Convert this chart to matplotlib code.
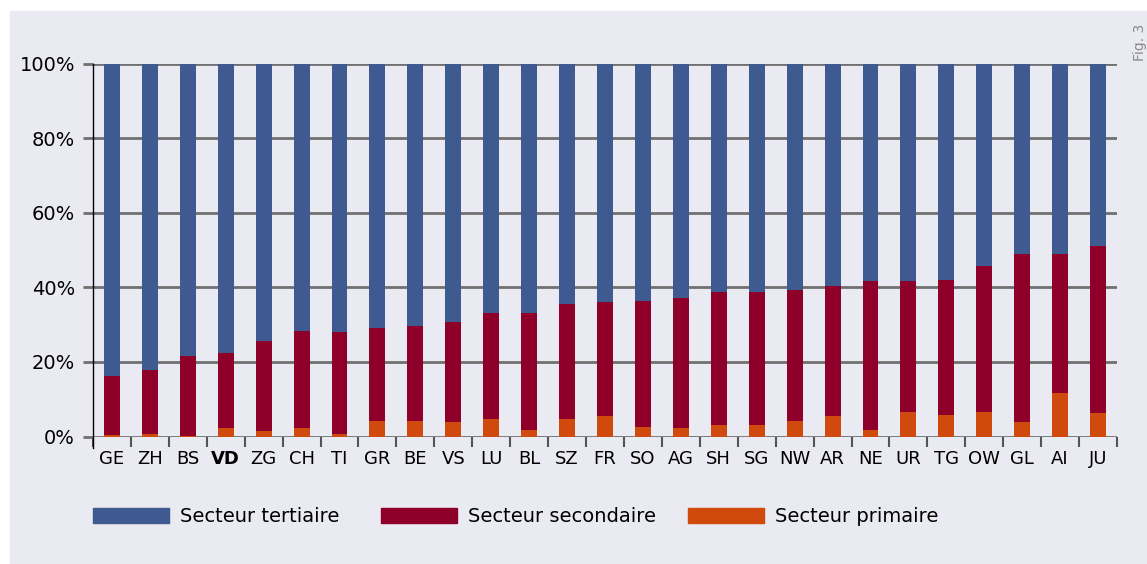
import matplotlib.pyplot as plt
from matplotlib.patches import Rectangle, Patch
import numpy as np

cantons = ['GE', 'ZH', 'BS', 'VD', 'ZG', 'CH', 'TI', 'GR', 'BE', 'VS', 'LU', 'BL', 'SZ',
           'FR', 'SO', 'AG', 'SH', 'SG', 'NW', 'AR', 'NE', 'UR', 'TG', 'OW', 'GL', 'AI', 'JU']
# shares in %
primaire = [0.3, 0.6, 0.1, 2.4, 1.4, 2.4, 0.8, 4.1, 4.1, 3.8, 4.7, 1.7, 4.7,
            5.5, 2.5, 2.3, 3.1, 3.1, 4.1, 5.5, 1.8, 6.5, 5.7, 6.5, 3.9, 11.7, 6.3]
# cumulative top of secondary sector (primary + secondary)
cumul_secondaire = [16.2, 17.7, 21.7, 22.5, 25.5, 28.2, 28.1, 29.0, 29.5, 30.6, 33.1, 33.1, 35.5,
                    36.0, 36.3, 37.1, 38.7, 38.7, 39.3, 40.3, 41.6, 41.6, 42.0, 45.7, 48.9, 48.9, 51.0]
secteurs = ['Secteur tertiaire', 'Secteur secondaire', 'Secteur primaire']

primaire = np.array(primaire)
secondaire = np.array(cumul_secondaire) - primaire
tertiaire = 100 - primaire - secondaire

c_ter = '#3e5a91'
c_sec = '#8e002a'
c_pri = '#d04a0e'
bg = '#eaeaf2'

plt.rcParams['font.family'] = ['DejaVu Sans']

W, H = 1147, 564
fig = plt.figure(figsize=(W / 100, H / 100), dpi=100)
fig.patches.append(Rectangle((10 / W, 0), 1 - 10 / W, 1 - 11 / H,
                             transform=fig.transFigure, color=bg, zorder=-10))

ax = fig.add_axes([93 / W, (H - 436.5) / H, 1024 / W, 373 / H])
ax.patch.set_alpha(0)

x = np.arange(len(cantons))
w = 0.42
ax.bar(x, primaire, w, color=c_pri, zorder=3)
ax.bar(x, secondaire, w, bottom=primaire, color=c_sec, zorder=3)
ax.bar(x, tertiaire, w, bottom=primaire + secondaire, color=c_ter, zorder=3)

ax.set_xlim(-0.5, len(cantons) - 0.5)
ax.set_ylim(0, 100)
ax.set_yticks(np.arange(0, 101, 20))
ax.set_yticklabels(['%d%%' % v for v in range(0, 101, 20)], fontsize=14)
ax.yaxis.grid(True, color='#707070', linewidth=2, zorder=1)
ax.tick_params(axis='y', length=7, width=2, color='#707070', pad=6)

ax.set_xticks(x)
ax.set_xticklabels(cantons, fontsize=13)
ax.get_xticklabels()[cantons.index('VD')].set_fontweight('bold')
ax.set_xticks(np.arange(-0.5, len(cantons), 1), minor=True)
ax.tick_params(axis='x', which='major', length=0, pad=10)
ax.tick_params(axis='x', which='minor', length=7, width=1.5, color='#555555')

for s in ['top', 'right', 'bottom']:
    ax.spines[s].set_visible(False)
ax.spines['left'].set_color('black')
ax.spines['left'].set_linewidth(1)
ax.spines['left'].set_bounds(-3, 100)
ax.spines['left'].set_zorder(4)

# one legend per entry, placed where the reference puts them
leg_x = [93, 381, 688]
for label, col, lx in zip(secteurs, [c_ter, c_sec, c_pri], leg_x):
    leg = fig.legend(handles=[Patch(color=col, label=label)], loc='center left',
                     bbox_to_anchor=(lx / W, 1 - 517 / H), frameon=False, fontsize=14,
                     handlelength=3.9, handleheight=0.78, handletextpad=0.6,
                     borderpad=0, borderaxespad=0)

fig.text(1140 / W, 1 - 42 / H, 'Fig. 3', rotation=90, ha='center', va='center',
         fontsize=10, color='#888888')

fig.savefig('out.png', dpi=100)
